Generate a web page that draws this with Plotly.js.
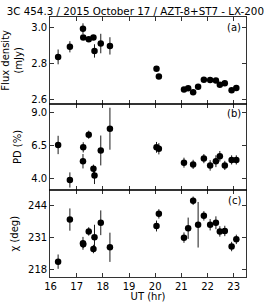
<!DOCTYPE html>
<html>
<head>
<meta charset="utf-8">
<script src="https://cdn.plot.ly/plotly-3.0.1.min.js"></script>
<style>html,body{margin:0;padding:0;background:#fff;}#chart{width:274px;height:302px;}</style>
</head>
<body>
<div id="chart"></div>
<script>
// Panel (a): flux density
const utFlux = [16.29,16.74,17.24,17.25,17.46,17.64,17.68,17.92,18.27,20.05,20.14,21.10,21.26,21.45,21.64,21.86,22.10,22.32,22.47,22.66,22.92,23.10];
const flux = [2.837,2.893,2.993,2.944,2.935,2.944,2.870,2.911,2.898,2.772,2.728,2.656,2.663,2.641,2.672,2.711,2.709,2.706,2.683,2.691,2.652,2.665];
const fluxErr = [0.041,0.031,0.030,0.012,0.010,0.010,0.037,0.054,0.048,0.010,0.010,0.008,0.008,0.008,0.008,0.008,0.008,0.008,0.008,0.008,0.008,0.008];

// Panel (b): polarization degree
const utPD = [16.29,16.74,17.25,17.24,17.46,17.64,17.68,17.92,18.27,20.05,20.14,21.10,21.45,21.86,22.10,22.32,22.47,22.66,22.92,23.10];
const pd = [6.54,3.87,6.36,5.30,7.32,4.72,4.21,6.12,7.78,6.36,6.25,5.19,5.06,5.50,4.98,5.30,5.68,4.98,5.40,5.40];
const pdErr = [0.70,0.58,0.39,0.55,0.31,0.32,0.65,1.14,1.60,0.41,0.43,0.38,0.35,0.35,0.40,0.45,0.40,0.35,0.35,0.35];

// Panel (c): polarization angle
const utChi = [16.29,16.74,17.24,17.25,17.46,17.64,17.68,17.92,18.27,20.05,20.14,21.10,21.26,21.45,21.64,21.86,22.10,22.32,22.47,22.66,22.92,23.10];
const chi = [221.2,238.2,228.6,228.2,233.4,226.3,231.1,236.9,227.0,235.6,240.5,230.9,234.7,245.8,236.1,239.7,236.1,236.9,233.4,233.6,227.3,230.2];
const chiErr = [2.9,4.5,2.6,1.5,1.7,1.7,5.0,5.0,5.9,2.2,1.9,2.1,4.3,1.7,9.2,1.9,2.3,2.6,2.1,2.1,1.9,1.9];

const fluxTicks = [2.6,2.8,3.0];
const pdTicks = [4.0,6.5,9.0];
const chiTicks = [218,231,244];
const xTicks = [16,17,18,19,20,21,22,23];

const FONT = "DejaVu Sans, Liberation Sans, sans-serif";

function series(x, y, e, xa, ya) {
  return {
    x: x, y: y, xaxis: xa, yaxis: ya, type: 'scatter', mode: 'markers',
    marker: {color: '#000', size: 6.5},
    error_y: {type: 'data', array: e, visible: true, color: '#000', thickness: 0.9, width: 0},
    showlegend: false, hoverinfo: 'skip'
  };
}

const data = [
  series(utFlux, flux, fluxErr, 'x', 'y'),
  series(utPD, pd, pdErr, 'x2', 'y2'),
  series(utChi, chi, chiErr, 'x3', 'y3')
];

const xr = [15.98, 23.47];
function xax(anchor, showLabels) {
  return {
    range: xr, domain: [0, 1], anchor: anchor, tickvals: xTicks,
    ticktext: xTicks.map(String), showticklabels: showLabels,
    ticks: 'inside', ticklen: 4, tickwidth: 0.8, tickcolor: '#000',
    showline: true, linecolor: '#000', linewidth: 0.8, mirror: 'allticks',
    showgrid: false, zeroline: false,
    tickfont: {family: FONT, size: 10, color: '#000'}
  };
}
function yax(anchor, domain, range, ticks, title, fmt) {
  return {
    range: range, domain: domain, anchor: anchor, tickvals: ticks,
    ticktext: ticks.map(v => fmt(v)),
    ticks: 'inside', ticklen: 4, tickwidth: 0.8, tickcolor: '#000',
    showline: true, linecolor: '#000', linewidth: 0.8, mirror: 'allticks',
    showgrid: false, zeroline: false,
    tickfont: {family: FONT, size: 10, color: '#000'},
    title: {text: title, font: {family: FONT, size: 10, color: '#000'}, standoff: 7}
  };
}

const layout = {
  width: 274, height: 302,
  margin: {l: 49.5, r: 27.5, t: 17, b: 25},
  paper_bgcolor: '#fff', plot_bgcolor: '#fff',
  title: {text: '3C 454.3 / 2015 October 17 / AZT-8+ST7 - LX-200',
          font: {family: FONT, size: 10.3, color: '#000'},
          xref: 'container', x: 0.494, xanchor: 'center',
          yref: 'container', y: 0.962, yanchor: 'middle'},
  xaxis: xax('y', false),
  xaxis2: xax('y2', false),
  xaxis3: Object.assign(xax('y3', true), {title: {text: 'UT (hr)', font: {family: FONT, size: 10, color: '#000'}, standoff: 3}}),
  yaxis: yax('x', [0.6667, 1], [2.578, 3.058], fluxTicks, 'Flux density<br>(mJy)', v => v.toFixed(1)),
  yaxis2: yax('x2', [0.3333, 0.6667], [3.08, 9.69], pdTicks, 'PD (%)', v => v.toFixed(1)),
  yaxis3: yax('x3', [0, 0.3333], [215.0, 250.0], chiTicks, 'χ (deg)', v => String(v)),
  annotations: [
    {text: '(a)', xref: 'paper', yref: 'paper', x: 0.985, y: 0.99, xanchor: 'right', yanchor: 'top', showarrow: false, font: {family: FONT, size: 10, color: '#000'}},
    {text: '(b)', xref: 'paper', yref: 'paper', x: 0.985, y: 0.657, xanchor: 'right', yanchor: 'top', showarrow: false, font: {family: FONT, size: 10, color: '#000'}},
    {text: '(c)', xref: 'paper', yref: 'paper', x: 0.985, y: 0.323, xanchor: 'right', yanchor: 'top', showarrow: false, font: {family: FONT, size: 10, color: '#000'}}
  ]
};

Plotly.newPlot('chart', data, layout, {staticPlot: true, displayModeBar: false});
</script>
</body>
</html>
